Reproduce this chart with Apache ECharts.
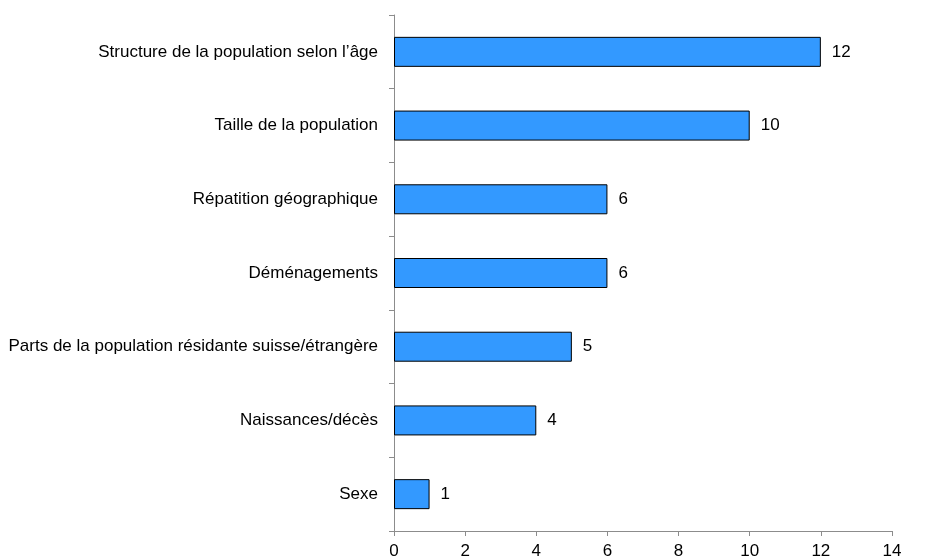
<!DOCTYPE html>
<html>
<head>
<meta charset="utf-8">
<script src="https://cdn.jsdelivr.net/npm/echarts@6/dist/echarts.min.js"></script>
<style>
  html, body { margin: 0; padding: 0; background: #fff; }
  #chart { width: 932px; height: 560px; }
</style>
</head>
<body>
<div id="chart"></div>
<script>
// Topics, listed bottom to top as the category axis draws them
const categories = [
  'Sexe',
  'Naissances/décès',
  'Parts de la population résidante suisse/étrangère',
  'Déménagements',
  'Répatition géographique',
  'Taille de la population',
  'Structure de la population selon l’âge'
];
const counts = [1, 4, 5, 6, 6, 10, 12];
const xTicks = { min: 0, max: 14, interval: 2 };

const sans = "'Liberation Sans', Arial, sans-serif";

const chart = echarts.init(document.getElementById('chart'));
chart.setOption({
  animation: false,
  grid: { left: 394, right: 40, top: 15, bottom: 29, outerBoundsMode: 'none', containLabel: false },
  xAxis: {
    type: 'value',
    min: xTicks.min,
    max: xTicks.max,
    interval: xTicks.interval,
    axisLine: { show: true, lineStyle: { color: '#8c8c8c', width: 1 } },
    axisTick: { show: true, length: 5, lineStyle: { color: '#8c8c8c' } },
    splitLine: { show: false },
    axisLabel: {
      color: '#000',
      fontFamily: sans,
      fontSize: 17,
      margin: 12
    }
  },
  yAxis: {
    type: 'category',
    data: categories,
    axisLine: { show: true, lineStyle: { color: '#8c8c8c', width: 1 } },
    axisTick: { show: true, length: 5, alignWithLabel: false, lineStyle: { color: '#8c8c8c' } },
    axisLabel: {
      color: '#000',
      fontFamily: sans,
      fontSize: 17,
      margin: 16
    }
  },
  series: [{
    type: 'bar',
    data: counts,
    barWidth: 30,
    itemStyle: { color: '#3399ff', borderColor: '#000', borderWidth: 1 },
    label: {
      show: true,
      position: 'right',
      distance: 11,
      color: '#000',
      fontFamily: sans,
      fontSize: 17
    }
  }]
});
</script>
</body>
</html>
